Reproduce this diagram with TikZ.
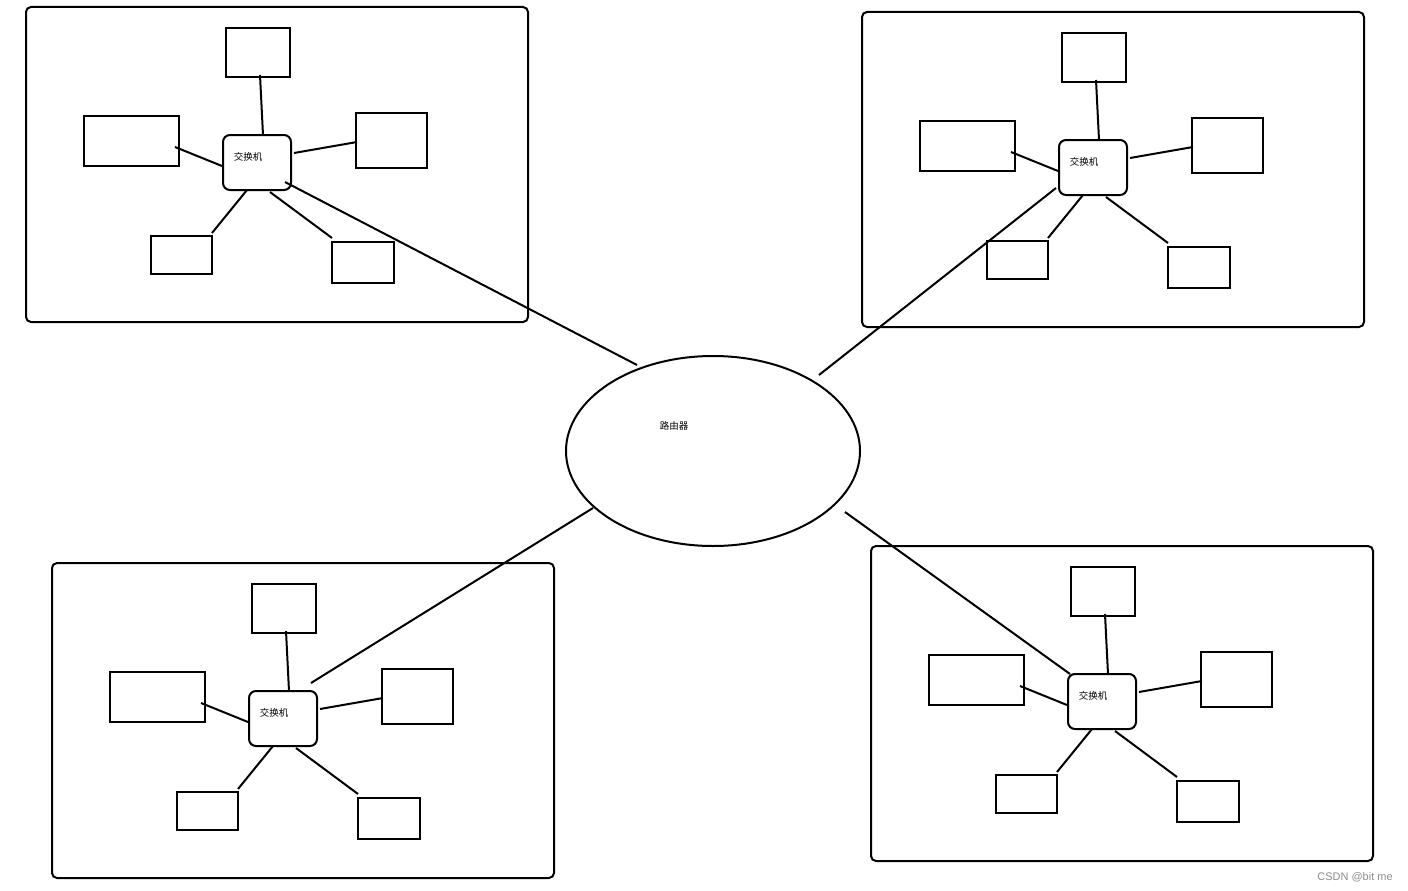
\documentclass[tikz,border=0pt]{standalone}
\usepackage{fontspec}
\newfontfamily\cjk{Noto Sans CJK SC}
\newfontfamily\wmfont{Liberation Sans}
\usetikzlibrary{shapes.geometric}
\tikzset{
  frame/.style={draw, rectangle, rounded corners=5pt, line width=2pt, inner sep=0pt, outer sep=0pt},
  pc/.style={draw, rectangle, line width=2pt, inner sep=0pt, outer sep=0pt},
  switchbox/.style={draw, rectangle, rounded corners=7pt, line width=2pt, inner sep=0pt, outer sep=0pt},
  link/.style={draw, line width=2pt},
  lbl/.style={font=\cjk\fontsize{9.5}{10}\selectfont, inner sep=0pt},
  routershape/.style={draw, ellipse, line width=2pt, inner sep=0pt, minimum width=294pt, minimum height=190pt}
}
\newcommand\lanblock[3]{%
  \begin{scope}[shift={(#2,#3)}]
    \node[frame, minimum width=502pt, minimum height=315pt] (#1frame) at (277,164.5) {};
    \node[switchbox, minimum width=68pt, minimum height=55pt] (#1sw) at (257,162.5) {};
    \node[lbl] (#1swlbl) at (248,157) {交换机};
    \node[pc, minimum width=64pt, minimum height=49pt] (#1top) at (258,52.5) {};
    \node[pc, minimum width=95pt, minimum height=50pt] (#1left) at (131.5,141) {};
    \node[pc, minimum width=71pt, minimum height=55pt] (#1right) at (391.5,140.5) {};
    \node[pc, minimum width=61pt, minimum height=38pt] (#1bl) at (181.5,255) {};
    \node[pc, minimum width=62pt, minimum height=41pt] (#1br) at (363,262.5) {};
    \coordinate (#1ta) at (260,75);  \coordinate (#1tb) at (263,135);
    \coordinate (#1la) at (175,147); \coordinate (#1lb) at (222,166);
    \coordinate (#1ra) at (294,153); \coordinate (#1rb) at (357,142);
    \coordinate (#1bla) at (247,190); \coordinate (#1blb) at (212,233);
    \coordinate (#1bra) at (270,192); \coordinate (#1brb) at (332,238);
    \draw[link] (#1ta) -- (#1tb);
    \draw[link] (#1la) -- (#1lb);
    \draw[link] (#1ra) -- (#1rb);
    \draw[link] (#1bla) -- (#1blb);
    \draw[link] (#1bra) -- (#1brb);
  \end{scope}}
\begin{document}
\begin{tikzpicture}[x=1pt,y=-1pt]
  \useasboundingbox[fill=white] (0,0) rectangle (1408,891);
  \lanblock{A}{0}{0}
  \lanblock{B}{836}{5}
  \lanblock{C}{26}{556}
  \lanblock{D}{845}{539}
  \node[routershape] (router) at (713,451) {};
  \node[lbl] (routerlbl) at (674,426) {路由器};
  \coordinate (Aup) at (285,182);   \coordinate (Rtl) at (637,365);
  \coordinate (Bup) at (1056,188);  \coordinate (Rtr) at (819,375);
  \coordinate (Cup) at (311,683);   \coordinate (Rbl) at (593,508);
  \coordinate (Dup) at (1070,674);  \coordinate (Rbr) at (845,512);
  \draw[link] (Aup) -- (Rtl);
  \draw[link] (Bup) -- (Rtr);
  \draw[link] (Cup) -- (Rbl);
  \draw[link] (Dup) -- (Rbr);
  \node[font=\wmfont\fontsize{11}{12}\selectfont, text=black!45, inner sep=0pt] (wm) at (1355,877) {CSDN @bit me};
\end{tikzpicture}
\end{document}
